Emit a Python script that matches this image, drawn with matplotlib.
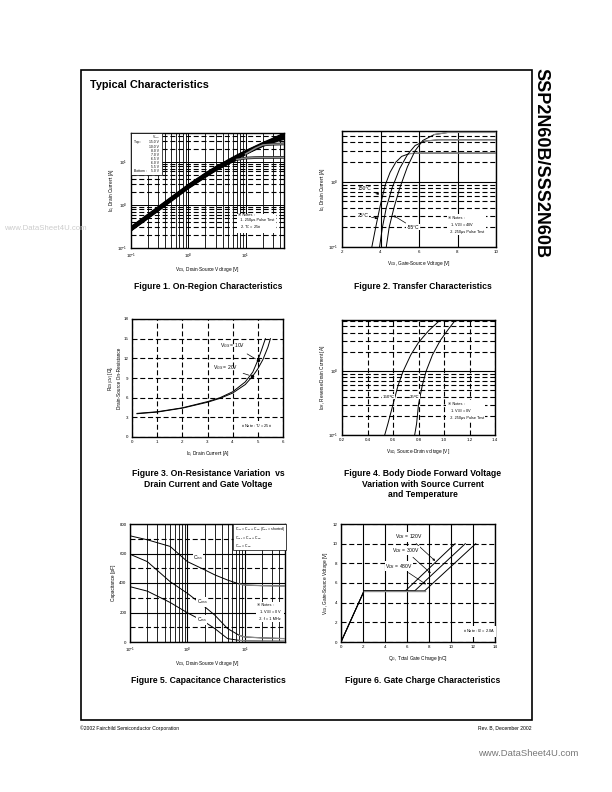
"""Typical characteristics page (SSP2N60B / SSS2N60B) redrawn with matplotlib."""
import matplotlib.pyplot as plt
from matplotlib.patches import Rectangle
from matplotlib.ticker import LogLocator, MultipleLocator, NullFormatter, LogFormatterMathtext

plt.rcParams['font.family'] = ['Liberation Sans', 'DejaVu Sans']
plt.rcParams['mathtext.fontset'] = 'custom'
plt.rcParams['mathtext.rm'] = 'Liberation Sans'
plt.rcParams['mathtext.it'] = 'Liberation Sans:italic'
plt.rcParams['mathtext.bf'] = 'Liberation Sans:bold'

# ---- Figure 1: on-region characteristics (VDS [V] vs ID [A]) ----
vgs_steps = ['15.0 V', '10.0 V', '8.0 V', '7.0 V', '6.5 V', '6.0 V', '5.5 V', '5.0 V']
vds_fig1 = [0.1, 0.2, 0.5, 1, 2, 3, 5, 7, 10, 15, 20, 30, 47]
id_15v = [0.30, 0.59, 1.45, 2.85, 5.3, 7.4, 10.8, 13.8, 17.5, 22.5, 27.0, 34.0, 45.0]
id_10v = [0.29, 0.57, 1.41, 2.80, 5.2, 7.2, 10.5, 13.4, 17.0, 22.0, 26.0, 33.0, 43.0]
id_8v = [0.285, 0.56, 1.38, 2.75, 5.1, 7.1, 10.3, 13.1, 16.6, 21.5, 25.5, 32.0, 41.0]
id_7v = [0.28, 0.55, 1.36, 2.70, 5.0, 7.0, 10.1, 12.9, 16.3, 21.0, 25.0, 31.0, 39.0]
id_65v = [0.275, 0.54, 1.33, 2.65, 4.9, 6.85, 9.9, 12.7, 16.0, 20.5, 24.5, 30.0, 37.0]
id_6v = [0.27, 0.53, 1.31, 2.60, 4.8, 6.7, 9.7, 12.5, 15.7, 20.0, 24.0, 29.0, 35.0]
id_55v = [0.265, 0.52, 1.28, 2.55, 4.7, 6.6, 9.5, 12.3, 15.3, 21.0, 24.8, 25.8, 26.2]
id_5v = [0.26, 0.51, 1.26, 2.50, 4.6, 6.45, 9.3, 11.4, 12.3, 12.6, 12.7, 12.7, 12.8]
fig1_curves = [id_15v, id_10v, id_8v, id_7v, id_65v, id_6v, id_55v, id_5v]
fig1_tail_start = [None, None, None, None, None, None, 8, 7]

# ---- Figure 2: transfer characteristics (VGS [V] vs ID [A]) ----
vgs_150c = [3.55, 3.75, 4.0, 4.25, 4.5, 4.8, 5.1, 5.5, 6.0, 10.0]
id_150c = [0.1, 0.2, 0.45, 0.9, 1.4, 2.0, 2.45, 2.7, 2.75, 2.75]
vgs_25c = [3.95, 4.1, 4.3, 4.6, 5.0, 5.4, 5.8, 6.3, 7.0, 10.0]
id_25c = [0.1, 0.2, 0.4, 0.8, 1.6, 2.6, 3.6, 4.2, 4.4, 4.4]
vgs_m55c = [4.3, 4.45, 4.7, 5.0, 5.4, 5.8, 6.2, 6.8, 7.5, 10.0]
id_m55c = [0.1, 0.2, 0.4, 0.8, 1.7, 3.0, 4.3, 5.3, 5.7, 5.7]

# ---- Figure 3: on-resistance vs drain current ----
id_fig3_10v = [0.2, 1, 2, 3, 3.5, 4, 4.5, 4.8, 5.0, 5.15, 5.3]
rds_10v = [3.6, 3.85, 4.45, 5.4, 6.0, 6.9, 8.4, 9.9, 11.7, 13.3, 15.0]
id_fig3_20v = [0.2, 1, 2, 3, 3.5, 4, 4.5, 4.8, 5.0, 5.2, 5.4, 5.5]
rds_20v = [3.55, 3.8, 4.4, 5.3, 5.9, 6.7, 8.0, 9.3, 10.4, 11.8, 13.7, 15.0]

# ---- Figure 4: body diode forward voltage ----
vsd_150c = [0.535, 0.56, 0.6, 0.64, 0.68, 0.74, 0.8, 0.88, 0.97]
idr_150c = [0.1, 0.15, 0.3, 0.6, 1.0, 1.8, 2.8, 4.3, 6.3]
vsd_25c = [0.77, 0.785, 0.8, 0.83, 0.86, 0.91, 0.97, 1.03, 1.09]
idr_25c = [0.1, 0.15, 0.3, 0.6, 1.0, 1.8, 3.0, 4.4, 6.3]

# ---- Figure 5: capacitance vs VDS ----
vds_fig5 = [0.1, 0.2, 0.5, 1, 2, 3, 5, 8, 10, 20, 50]
c_iss = [720, 693, 648, 545, 489, 455, 420, 393, 386, 382, 380]
c_oss = [595, 545, 409, 330, 239, 182, 91, 45, 34, 28, 23]
c_rss = [375, 345, 268, 198, 136, 91, 23, 11, 8, 6, 5]

# ---- Figure 6: gate charge ----
qg_120v = [0, 2.1, 5.85, 10.37]
qg_300v = [0, 2.1, 6.7, 11.3]
qg_480v = [0, 2.1, 7.6, 12.25]
vgs_qg = [0, 5.2, 5.2, 10.0]

W, H = 612, 792
DASH = (0, (4.5, 2.5))
TICK_FS = 3.2
LABEL_FS = 3.4
NOTE_FS = 2.8


def add_ax(fig, x0, y0, x1, y1):
    # page pixel box (top-left origin) -> figure fraction
    return fig.add_axes([x0 / W, 1 - y1 / H, (x1 - x0) / W, (y1 - y0) / H])


def style(ax):
    for s in ax.spines.values():
        s.set_linewidth(1.0)
    ax.tick_params(which='both', direction='in', length=0, labelsize=TICK_FS, pad=2.5)
    ax.set_axisbelow(True)


def log_axis(axis):
    axis.set_major_locator(LogLocator(base=10))
    axis.set_major_formatter(LogFormatterMathtext())
    axis.set_minor_locator(LogLocator(base=10, subs=range(2, 10)))
    axis.set_minor_formatter(NullFormatter())


def note(ax, x, y, text, ha='left'):
    ax.text(x, y, text, transform=ax.transAxes, fontsize=NOTE_FS, ha=ha, va='top',
            linespacing=1.3, bbox=dict(facecolor='white', edgecolor='none', pad=1.0), zorder=5)


fig = plt.figure(figsize=(W / 100, H / 100), dpi=100)

# page frame and headings
fig.patches.append(Rectangle((81 / W, 1 - 720 / H), (532 - 81) / W, (720 - 70) / H,
                             transform=fig.transFigure, fill=False, lw=1.2, color='black'))
fig.text(90 / W, 1 - 85 / H, 'Typical Characteristics', fontsize=7.8, fontweight='bold', va='center')
fig.text(541 / W, 1 - 68 / H, 'SSP2N60B/SSS2N60B', fontsize=13, fontweight='bold',
         rotation=270, ha='center', va='top')
fig.text(80 / W, 1 - 728 / H, '©2002 Fairchild Semiconductor Corporation', fontsize=3.6, va='center')
fig.text(531 / W, 1 - 728 / H, 'Rev. B, December 2002', fontsize=3.6, ha='right', va='center')
fig.text(478 / W, 1 - 753 / H, 'www.DataSheet4U.com', fontsize=6.8, color='#777777', va='center')
fig.text(4 / W, 1 - 229 / H, 'www.DataSheet4U.com', fontsize=5.6, color='#cccccc', va='center')

captions = [
    (208, 282, 'Figure 1. On-Region Characteristics'),
    (423, 282, 'Figure 2. Transfer Characteristics'),
    (208, 469, 'Figure 3. On-Resistance Variation  vs\nDrain Current and Gate Voltage'),
    (423, 469, 'Figure 4. Body Diode Forward Voltage\nVariation with Source Current\nand Temperature'),
    (208, 676, 'Figure 5. Capacitance Characteristics'),
    (423, 676, 'Figure 6. Gate Charge Characteristics'),
]
for cx, cy, txt in captions:
    fig.text(cx / W, 1 - cy / H, txt, fontsize=6.2, fontweight='bold', ha='center', va='top',
             linespacing=1.25)

# ---------------- Figure 1 ----------------
ax1 = add_ax(fig, 131, 133, 284, 248)
style(ax1)
ax1.set_xscale('log')
ax1.set_yscale('log')
log_axis(ax1.xaxis)
log_axis(ax1.yaxis)
ax1.set_xlim(0.1, 47)
ax1.set_ylim(0.1, 47)
ax1.grid(which='major', color='black', lw=0.7)
ax1.grid(which='minor', axis='x', color='black', lw=0.6)
ax1.grid(which='minor', axis='y', color='black', lw=0.8, ls=DASH)
for ids, tail in zip(fig1_curves, fig1_tail_start):
    ax1.plot(vds_fig1, ids, color='black', lw=1.9, zorder=3)
    if tail is not None:
        ax1.plot(vds_fig1[tail:], ids[tail:], color='#8a8a8a', lw=1.1, zorder=3)
ax1.set_xlabel('V$_{DS}$, Drain-Source Voltage [V]', fontsize=LABEL_FS, labelpad=3)
ax1.set_ylabel('I$_D$, Drain Current [A]', fontsize=LABEL_FS, labelpad=1)
ax1.add_patch(Rectangle((0.0, 0.635), 0.2, 0.365, transform=ax1.transAxes, facecolor='white',
                        edgecolor='black', lw=0.5, zorder=4))
ax1.text(0.185, 1.0, 'V$_{GS}$', transform=ax1.transAxes, fontsize=2.4, ha='right', va='top', zorder=5)
for i, lab in enumerate(vgs_steps):
    yy = 0.935 - i * 0.036
    ax1.text(0.185, yy, lab, transform=ax1.transAxes, fontsize=2.4, ha='right', va='top', zorder=5)
ax1.text(0.02, 0.935, 'Top :', transform=ax1.transAxes, fontsize=2.4, va='top', zorder=5)
ax1.text(0.02, 0.935 - 7 * 0.036, 'Bottom :', transform=ax1.transAxes, fontsize=2.4, va='top', zorder=5)
note(ax1, 0.70, 0.30, '※ Notes :\n  1. 250μs Pulse Test\n  2. T$_C$ = 25℃')

# ---------------- Figure 2 ----------------
ax2 = add_ax(fig, 342, 131, 496, 247)
style(ax2)
ax2.set_yscale('log')
log_axis(ax2.yaxis)
ax2.set_xlim(2, 10)
ax2.set_ylim(0.1, 6)
ax2.xaxis.set_major_locator(MultipleLocator(2))
ax2.grid(which='major', axis='x', color='black', lw=0.8)
ax2.grid(which='major', axis='y', color='black', lw=0.8)
ax2.grid(which='minor', axis='y', color='black', lw=0.8, ls=DASH)
for vv, ii in [(vgs_150c, id_150c), (vgs_25c, id_25c), (vgs_m55c, id_m55c)]:
    ax2.plot(vv, ii, color='black', lw=0.7, zorder=3)
    ax2.plot(vv[-3:], ii[-3:], color='#8a8a8a', lw=0.9, zorder=3)
ax2.annotate('150°C', xy=(4.08, 0.62), xytext=(2.8, 0.78), fontsize=3.6, va='center',
             arrowprops=dict(arrowstyle='-|>', lw=0.5, color='black', mutation_scale=3),
             bbox=dict(facecolor='white', edgecolor='none', pad=0.3))
ax2.annotate('25°C', xy=(4.0, 0.27), xytext=(2.8, 0.3), fontsize=3.6, va='center',
             arrowprops=dict(arrowstyle='-|>', lw=0.5, color='black', mutation_scale=3),
             bbox=dict(facecolor='white', edgecolor='none', pad=0.3))
ax2.annotate('-55°C', xy=(4.55, 0.32), xytext=(5.35, 0.2), fontsize=3.6, va='center',
             arrowprops=dict(arrowstyle='-|>', lw=0.5, color='black', mutation_scale=3),
             bbox=dict(facecolor='white', edgecolor='none', pad=0.3))
note(ax2, 0.69, 0.27, '※ Notes :\n  1. V$_{DS}$ = 40V\n  2. 250μs Pulse Test')
ax2.set_xlabel('V$_{GS}$, Gate-Source Voltage [V]', fontsize=LABEL_FS, labelpad=3)
ax2.set_ylabel('I$_D$, Drain Current [A]', fontsize=LABEL_FS, labelpad=1)

# ---------------- Figure 3 ----------------
ax3 = add_ax(fig, 132, 319, 283, 437)
style(ax3)
ax3.set_xlim(0, 6)
ax3.set_ylim(0, 18)
ax3.xaxis.set_major_locator(MultipleLocator(1))
ax3.yaxis.set_major_locator(MultipleLocator(3))
ax3.grid(which='major', color='black', lw=0.8, ls=DASH)
ax3.plot(id_fig3_10v, rds_10v, color='black', lw=0.7, zorder=3)
ax3.plot(id_fig3_20v, rds_20v, color='black', lw=0.7, zorder=3)
ax3.annotate('V$_{GS}$ = 10V', xy=(5.0, 11.7), xytext=(3.5, 14.0), fontsize=3.6, va='center',
             arrowprops=dict(arrowstyle='-', lw=0.5, color='black'))
ax3.plot([5.0], [11.7], 'o', color='black', ms=1.5, zorder=4)
ax3.annotate('V$_{GS}$ = 20V', xy=(4.75, 9.3), xytext=(3.2, 10.6), fontsize=3.6, va='center',
             arrowprops=dict(arrowstyle='-', lw=0.5, color='black'))
ax3.plot([4.75], [9.3], 'o', color='black', ms=1.5, zorder=4)
note(ax3, 0.72, 0.12, '※ Note : T$_J$ = 25℃')
ax3.set_xlabel('I$_D$, Drain Current [A]', fontsize=LABEL_FS, labelpad=3)
ax3.set_ylabel('R$_{DS(ON)}$ [$\\Omega$],\nDrain-Source On-Resistance', fontsize=LABEL_FS,
               labelpad=1, linespacing=1.1)

# ---------------- Figure 4 ----------------
ax4 = add_ax(fig, 342, 320, 495, 435)
style(ax4)
ax4.set_yscale('log')
log_axis(ax4.yaxis)
ax4.set_xlim(0.2, 1.4)
ax4.set_ylim(0.1, 6.3)
ax4.xaxis.set_major_locator(MultipleLocator(0.2))
ax4.grid(which='major', axis='x', color='black', lw=0.8, ls=DASH)
ax4.grid(which='major', axis='y', color='black', lw=0.8)
ax4.grid(which='minor', axis='y', color='black', lw=0.8, ls=DASH)
ax4.plot(vsd_150c, idr_150c, color='black', lw=0.7, zorder=3)
ax4.plot(vsd_25c, idr_25c, color='black', lw=0.7, zorder=3)
ax4.annotate('150℃', xy=(0.61, 0.4), xytext=(0.52, 0.4), fontsize=3.2, va='center',
             arrowprops=dict(arrowstyle='-|>', lw=0.4, color='black', mutation_scale=3),
             bbox=dict(facecolor='white', edgecolor='none', pad=0.3))
ax4.annotate('25℃', xy=(0.805, 0.4), xytext=(0.735, 0.4), fontsize=3.2, va='center',
             arrowprops=dict(arrowstyle='-|>', lw=0.4, color='black', mutation_scale=3),
             bbox=dict(facecolor='white', edgecolor='none', pad=0.3))
note(ax4, 0.69, 0.29, '※ Notes :\n  1. V$_{GS}$ = 0V\n  2. 250μs Pulse Test')
ax4.set_xlabel('V$_{SD}$, Source-Drain voltage [V]', fontsize=LABEL_FS, labelpad=3)
ax4.set_ylabel('I$_{DR}$, Reverse Drain Current [A]', fontsize=LABEL_FS, labelpad=1)

# ---------------- Figure 5 ----------------
ax5 = add_ax(fig, 130, 524, 285, 642)
style(ax5)
ax5.set_xscale('log')
log_axis(ax5.xaxis)
ax5.set_xlim(0.1, 50)
ax5.set_ylim(0, 800)
ax5.yaxis.set_major_locator(MultipleLocator(200))
ax5.yaxis.set_minor_locator(MultipleLocator(100))
ax5.grid(which='major', color='black', lw=0.8)
ax5.grid(which='minor', axis='x', color='black', lw=0.6)
ax5.grid(which='minor', axis='y', color='black', lw=0.8, ls=DASH)
for cc in (c_iss, c_oss, c_rss):
    ax5.plot(vds_fig5, cc, color='black', lw=0.7, zorder=3)
    ax5.plot(vds_fig5[-4:], cc[-4:], color='#8a8a8a', lw=0.9, zorder=3)
ax5.text(1.25, 560, 'C$_{iss}$', fontsize=3.6, bbox=dict(facecolor='white', edgecolor='none', pad=0.3))
ax5.text(1.45, 262, 'C$_{oss}$', fontsize=3.6, bbox=dict(facecolor='white', edgecolor='none', pad=0.3))
ax5.text(1.45, 140, 'C$_{rss}$', fontsize=3.6, bbox=dict(facecolor='white', edgecolor='none', pad=0.3))
ax5.text(0.675, 0.985, 'C$_{iss}$ = C$_{gs}$ + C$_{gd}$ (C$_{ds}$ = shorted)\nC$_{oss}$ = C$_{ds}$ + C$_{gd}$\nC$_{rss}$ = C$_{gd}$',
         transform=ax5.transAxes, fontsize=2.5, va='top', linespacing=1.2, zorder=5,
         bbox=dict(facecolor='white', edgecolor='black', lw=0.5, pad=1.0))
note(ax5, 0.82, 0.33, '※ Notes :\n  1. V$_{GS}$ = 0 V\n  2. f = 1 MHz')
ax5.set_xlabel('V$_{DS}$, Drain-Source Voltage [V]', fontsize=LABEL_FS, labelpad=3)
ax5.set_ylabel('Capacitance [pF]', fontsize=LABEL_FS, labelpad=2)

# ---------------- Figure 6 ----------------
ax6 = add_ax(fig, 341, 524, 495, 642)
style(ax6)
ax6.set_xlim(0, 14)
ax6.set_ylim(0, 12)
ax6.xaxis.set_major_locator(MultipleLocator(2))
ax6.yaxis.set_major_locator(MultipleLocator(2))
ax6.grid(which='major', axis='x', color='black', lw=0.8)
ax6.grid(which='major', axis='y', color='black', lw=0.8, ls=DASH)
for qq in (qg_120v, qg_300v, qg_480v):
    ax6.plot(qq, vgs_qg, color='black', lw=0.7, zorder=3)
ax6.plot([qg_120v[1], qg_480v[2]], [vgs_qg[1], vgs_qg[2]], color='#8a8a8a', lw=1.0, zorder=3)
for lab, xy, xt in [('V$_{DS}$ = 120V', (8.75, 8.05), (4.9, 10.7)),
                    ('V$_{DS}$ = 300V', (8.35, 6.8), (4.6, 9.3)),
                    ('V$_{DS}$ = 480V', (7.95, 5.7), (4.0, 7.7))]:
    ax6.annotate(lab, xy=xy, xytext=xt, fontsize=3.6, va='center',
                 arrowprops=dict(arrowstyle='-|>', lw=0.5, color='black', mutation_scale=3),
                 bbox=dict(facecolor='white', edgecolor='none', pad=0.3))
note(ax6, 0.79, 0.12, '※ Note : I$_D$ = 2.0A')
ax6.set_xlabel('Q$_G$, Total Gate Charge [nC]', fontsize=LABEL_FS, labelpad=3)
ax6.set_ylabel('V$_{GS}$, Gate-Source Voltage [V]', fontsize=LABEL_FS, labelpad=2)

fig.savefig('out.png', dpi=100)
